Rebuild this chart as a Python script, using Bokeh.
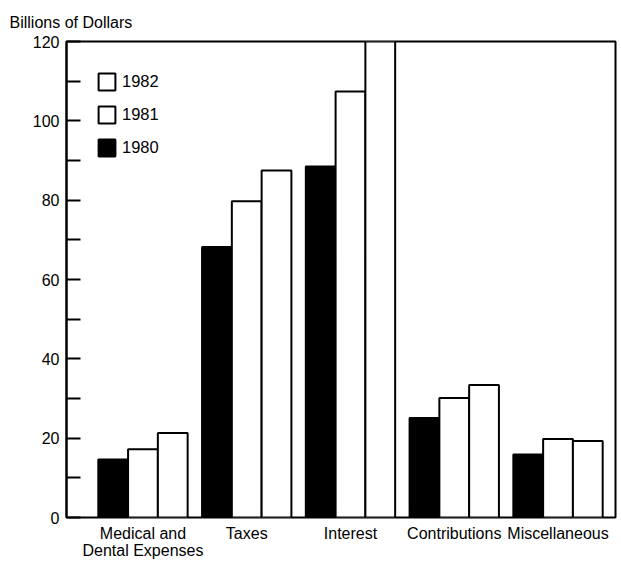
from bokeh.plotting import figure
from bokeh.models import (Range1d, FixedTicker, Legend, LegendItem, ColumnDataSource)
from bokeh.transform import dodge
from bokeh.embed import file_html
from bokeh.resources import INLINE

# ---- data ----
categories = ["Medical and\nDental Expenses", "Taxes", "Interest", "Contributions", "Miscellaneous"]
years = ["1980", "1981", "1982"]
values_1980 = [14.6, 68.2, 88.5, 25.1, 15.9]
values_1981 = [17.2, 79.7, 107.4, 30.1, 19.8]
values_1982 = [21.3, 87.5, 120.9, 33.4, 19.3]
y_ticks = [0, 20, 40, 60, 80, 100, 120]
y_title = "Billions of Dollars"

FONT = "Liberation Sans"

xs = list(range(len(categories)))
src = ColumnDataSource(dict(x=xs, v1980=values_1980, v1981=values_1981, v1982=values_1982))

p = figure(width=619, height=561,
           x_range=Range1d(-0.737, 4.554), y_range=Range1d(y_ticks[0], y_ticks[-1]),
           output_backend="svg", toolbar_location=None,
           min_border_left=66, min_border_right=4, min_border_top=41, min_border_bottom=0)

bw = 0.287
r80 = p.vbar(x=dodge("x", -bw), top="v1980", width=bw, source=src,
             fill_color="black", line_color="black", line_width=2)
r81 = p.vbar(x=dodge("x", 0), top="v1981", width=bw, source=src,
             fill_color="white", line_color="black", line_width=2)
r82 = p.vbar(x=dodge("x", bw), top="v1982", width=bw, source=src,
             fill_color="white", line_color="black", line_width=2)

legend = Legend(items=[LegendItem(label=years[2], renderers=[r82]),
                       LegendItem(label=years[1], renderers=[r81]),
                       LegendItem(label=years[0], renderers=[r80])],
                location="top_left", margin=30, padding=0, spacing=12,
                glyph_width=21, glyph_height=21, label_standoff=5,
                border_line_color=None, background_fill_alpha=0,
                label_text_font=FONT, label_text_font_size="16.5px",
                label_text_color="black")
p.add_layout(legend)

# title
p.title.text = y_title
p.title.align = "left"
p.title.offset = -57
p.title.text_font = FONT
p.title.text_font_size = "16px"
p.title.text_font_style = "normal"
p.title.text_color = "black"
p.title.standoff = 21

# y axis
minor = [(a + b) / 2 for a, b in zip(y_ticks, y_ticks[1:])]
p.yaxis.ticker = FixedTicker(ticks=y_ticks, minor_ticks=minor)
p.yaxis.major_tick_in = 14
p.yaxis.major_tick_out = 0
p.yaxis.minor_tick_in = 14
p.yaxis.minor_tick_out = 0
p.yaxis.major_tick_line_width = 2
p.yaxis.minor_tick_line_width = 2
p.yaxis.major_tick_line_color = "black"
p.yaxis.minor_tick_line_color = "black"
p.yaxis.axis_line_width = 2
p.yaxis.axis_line_color = "black"
p.yaxis.major_label_standoff = 7
p.yaxis.major_label_text_font = FONT
p.yaxis.major_label_text_font_size = "16px"
p.yaxis.major_label_text_color = "black"

# x axis
p.xaxis.ticker = FixedTicker(ticks=xs)
p.xaxis.major_label_overrides = {i: c for i, c in enumerate(categories)}
p.xaxis.major_tick_line_color = None
p.xaxis.minor_tick_line_color = None
p.xaxis.axis_line_color = None
p.xaxis.major_label_standoff = 1
p.xaxis.major_label_text_font = FONT
p.xaxis.major_label_text_font_size = "16px"
p.xaxis.major_label_text_color = "black"
p.xaxis.major_label_text_line_height = 1.0

p.xgrid.visible = False
p.ygrid.visible = False
p.outline_line_color = "black"
p.outline_line_width = 2
p.outline_line_alpha = 1.0
p.background_fill_color = "white"
p.border_fill_color = "white"

open("out.html", "w").write(file_html(p, INLINE))
